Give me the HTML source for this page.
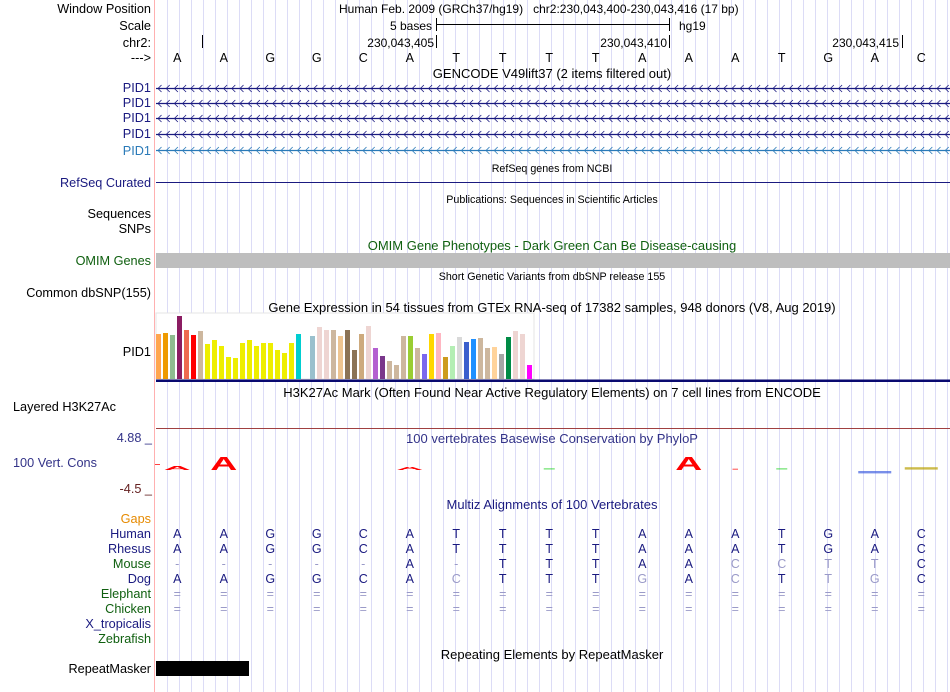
<!DOCTYPE html>
<html><head><meta charset="utf-8"><style>
body{margin:0;background:#fff;}
svg{display:block;font-family:"Liberation Sans",sans-serif;}
</style></head><body>
<svg id="s" width="950" height="692" viewBox="0 0 950 692">
<g id="grid"></g>
<line x1="154.5" y1="0" x2="154.5" y2="692" stroke="#ffb0b0"/>
<g id="labels" font-size="12.7" text-anchor="end">
<text x="151" y="13" fill="#000">Window Position</text>
<text x="151" y="30" fill="#000">Scale</text>
<text x="151" y="47" fill="#000">chr2:</text>
<text x="151" y="62" fill="#000">---&gt;</text>
<text x="151" y="92" fill="#1a1a80">PID1</text>
<text x="151" y="107" fill="#1a1a80">PID1</text>
<text x="151" y="122" fill="#1a1a80">PID1</text>
<text x="151" y="138" fill="#1a1a80">PID1</text>
<text x="151" y="155" fill="#2a7ab8">PID1</text>
<text x="151" y="187" fill="#1a1a80">RefSeq Curated</text>
<text x="151" y="218" fill="#000">Sequences</text>
<text x="151" y="233" fill="#000">SNPs</text>
<text x="151" y="265" fill="#106010">OMIM Genes</text>
<text x="151" y="297" fill="#000">Common dbSNP(155)</text>
<text x="151" y="356" fill="#000">PID1</text>
<text x="13" y="411" fill="#000" text-anchor="start">Layered H3K27Ac</text>
<text x="152" y="442" fill="#333388">4.88 _</text>
<text x="13" y="467" fill="#333388" text-anchor="start">100 Vert. Cons</text>
<text x="152" y="493" fill="#662222">-4.5 _</text>
<text x="151" y="523" fill="#e68a00">Gaps</text>
<text x="151" y="538" fill="#1a1a80">Human</text>
<text x="151" y="553" fill="#1a1a80">Rhesus</text>
<text x="151" y="568" fill="#106010">Mouse</text>
<text x="151" y="583" fill="#1a1a80">Dog</text>
<text x="151" y="598" fill="#106010">Elephant</text>
<text x="151" y="613" fill="#106010">Chicken</text>
<text x="151" y="628" fill="#1a1a80">X_tropicalis</text>
<text x="151" y="643" fill="#106010">Zebrafish</text>
<text x="151" y="673" fill="#000">RepeatMasker</text>
</g>
<g font-size="12" fill="#000">
<text x="339" y="13">Human Feb. 2009 (GRCh37/hg19)&#160;&#160;&#160;chr2:230,043,400-230,043,416 (17 bp)</text>
<text x="432" y="30" text-anchor="end">5 bases</text>
<line x1="436.5" y1="18" x2="436.5" y2="31" stroke="#000"/>
<line x1="436" y1="24.5" x2="669" y2="24.5" stroke="#000"/>
<line x1="669.5" y1="18" x2="669.5" y2="31" stroke="#000"/>
<text x="679" y="30">hg19</text>
<line x1="202.5" y1="35" x2="202.5" y2="48" stroke="#000"/>
<text x="434" y="47" text-anchor="end">230,043,405</text>
<line x1="436.5" y1="35" x2="436.5" y2="48" stroke="#000"/>
<text x="667" y="47" text-anchor="end">230,043,410</text>
<line x1="669.5" y1="35" x2="669.5" y2="48" stroke="#000"/>
<text x="899" y="47" text-anchor="end">230,043,415</text>
<line x1="902.5" y1="35" x2="902.5" y2="48" stroke="#000"/>
</g>
<g id="bases" font-size="12.5" text-anchor="middle"></g>
<g id="genes"></g>
<line x1="156" y1="182.5" x2="950" y2="182.5" stroke="#1a1a80"/>
<rect x="156" y="253" width="794" height="15" fill="#bebebe"/>
<rect x="156" y="313" width="378" height="66" fill="#fff" stroke="#e4e4e4"/>
<g id="gtex"></g>
<rect x="156" y="379.5" width="794" height="2.5" fill="#0a0a70"/>
<line x1="156" y1="428.5" x2="950" y2="428.5" stroke="#a04040"/>
<line x1="155" y1="464.5" x2="160" y2="464.5" stroke="#ff4040"/>
<g id="cons"></g>
<g font-size="13" text-anchor="middle">
<text x="552" y="78" fill="#000">GENCODE V49lift37 (2 items filtered out)</text>
<text x="552" y="172" fill="#000" font-size="10.7">RefSeq genes from NCBI</text>
<text x="552" y="203" fill="#000" font-size="10.7">Publications: Sequences in Scientific Articles</text>
<text x="552" y="250" fill="#106010">OMIM Gene Phenotypes - Dark Green Can Be Disease-causing</text>
<text x="552" y="280" fill="#000" font-size="10.7">Short Genetic Variants from dbSNP release 155</text>
<text x="552" y="312" fill="#000">Gene Expression in 54 tissues from GTEx RNA-seq of 17382 samples, 948 donors (V8, Aug 2019)</text>
<text x="552" y="397" fill="#000">H3K27Ac Mark (Often Found Near Active Regulatory Elements) on 7 cell lines from ENCODE</text>
<text x="552" y="443" fill="#333388">100 vertebrates Basewise Conservation by PhyloP</text>
<text x="552" y="509" fill="#1a1a80">Multiz Alignments of 100 Vertebrates</text>
<text x="552" y="659" fill="#000">Repeating Elements by RepeatMasker</text>
</g>
<g id="align" font-size="12.5" text-anchor="middle"></g>
<rect x="156" y="661" width="93" height="15" fill="#000"/>
</svg>
<script>
// GTEx expression values (approx, relative)
const gtexValues=[45,46,44,63,49,44,48,35,39,33,22,21,36,39,33,36,36,29,26,36,45,0,43,52,49,49,43,49,29,45,53,31,23,18,14,43,43,31,25,45,46,22,33,42,37,40,41,31,32,25,42,48,45,14];
const gtexColors=["#FFA54F","#EE9A00","#8FBC8F","#8B1C62","#EE6A50","#FF0000","#CDB79E","#EEEE00","#EEEE00","#EEEE00","#EEEE00","#EEEE00","#EEEE00","#EEEE00","#EEEE00","#EEEE00","#EEEE00","#EEEE00","#EEEE00","#EEEE00","#00CED1","#FFFFFF","#9AC0CD","#EED5D2","#EED5D2","#CDB79E","#EEC591","#8B7355","#8B7355","#CDAA7D","#EED5D2","#B460D0","#7A378B","#CDB79E","#CDB79E","#CDB79E","#9ACD32","#CDB79E","#7B68EE","#FFD700","#FFB6C1","#CD9B1D","#B4EEB4","#D9D9D9","#3A5FCD","#1E90FF","#CDB79E","#CDB79E","#FFD39B","#A6A6A6","#008B45","#EED5D2","#EED5D2","#FF00FF"];
const bases=["A","A","G","G","C","A","T","T","T","T","A","A","A","T","G","A","C"];
const phylop=[0.8,2.6,0,0,0,0.6,0,0,0.1,0,0,2.6,0.05,0.1,0,-0.3,0.3];
const alignRows=[
 ["AAGGCATTTTAAATGAC","NNNNNNNNNNNNNNNNN"],
 ["AAGGCATTTTAAATGAC","NNNNNNNNNNNNNNNNN"],
 ["-----A-TTTAACCTTC","PPPPPNPNNNNNPPPPN"],
 ["AAGGCACTTTGACTTGC","NNNNNNPNNNPNPNPPN"],
 ["=================","PPPPPPPPPPPPPPPPP"],
 ["=================","PPPPPPPPPPPPPPPPP"]];
const rowY=[538,553,568,583,598,613];
const NS="http://www.w3.org/2000/svg";
function el(t,a,p){const e=document.createElementNS(NS,t);for(const k in a)e.setAttribute(k,a[k]);p.appendChild(e);return e;}
const baseX=i=>154+46.5*(i+0.5);
const g=document.getElementById('grid');
for(let x=167.5;x<950;x+=12){const l=el('line',{x1:x,y1:0,x2:x,y2:692,stroke:'#dcdcf6'},g);

}
const bg=document.getElementById('bases');
bases.forEach((b,i)=>{const t=el('text',{x:baseX(i),y:62,fill:'#000'},bg);t.textContent=b;

});
const gg=document.getElementById('genes');
[88,103,118,134,150].forEach((y,k)=>{const c=k==4?'#2a7ab8':'#1a1a80';
const l=el('line',{x1:156,y1:y+0.5,x2:950,y2:y+0.5,stroke:c,'stroke-width':1.3},gg);


let d='';for(let x=158;x<948;x+=8.2){d+=`M${x+3.5},${y-3}L${x},${y+0.5}L${x+3.5},${y+4}`;}
el('path',{d:d,stroke:c,fill:'none','stroke-width':0.8},gg);});
const gt=document.getElementById('gtex');
const yG=v=>379-v;
gtexValues.forEach((v,i)=>{if(v<=0)return;const r=el('rect',{x:156+i*7,y:yG(v),width:5,height:379-yG(v),fill:gtexColors[i]},gt);

});
const cg=document.getElementById('cons');
const colMap={A:'#ff0000',C:'#b8a000',G:'#3050e0',T:'#00cc00'};
const cy0=470;const k=5;
phylop.forEach((v,i)=>{const x=baseX(i);const c=colMap[bases[i]];
if(v>=0.5){const h=v*k;const t=el('text',{x:0,y:0,fill:c,'font-size':17,'font-weight':'bold','text-anchor':'middle',transform:`translate(${x},${cy0}) scale(2.2,${h/12})`},cg);t.textContent=bases[i];

}
else if(v!==0){const w=Math.max(4,Math.abs(v)*110);const y=v>0?cy0-1-v*6:cy0+1;const r=el('rect',{x:x-w/2,y:y,width:w,height:Math.max(1,Math.abs(v)*8),fill:v<0?'#4060e0':c,opacity:0.7},cg);

}});
const ag=document.getElementById('align');
alignRows.forEach((row,r)=>{for(let i=0;i<17;i++){const ch=row[0][i];const pale=row[1][i]=='P';
const t=el('text',{x:baseX(i),y:rowY[r],fill:pale?'#9a9ac8':'#1a1a80'},ag);t.textContent=ch;

}});
</script>
</body></html>
